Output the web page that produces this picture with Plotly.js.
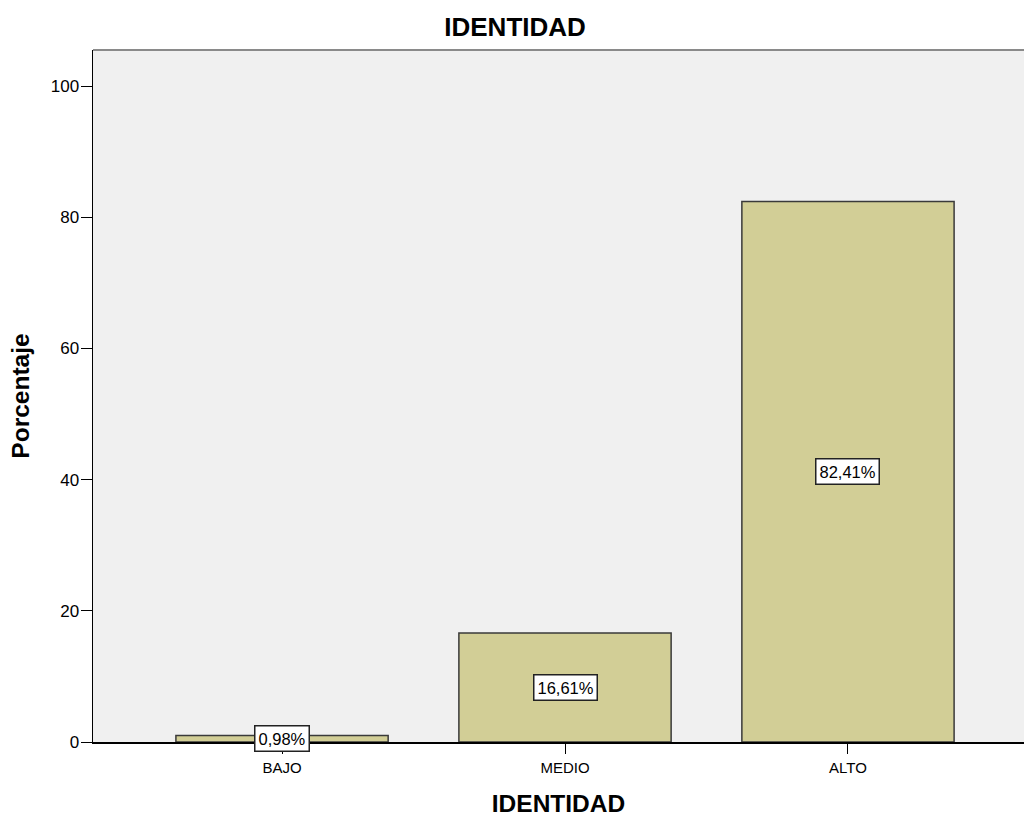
<!DOCTYPE html>
<html><head><meta charset="utf-8">
<script src="https://cdn.plot.ly/plotly-3.0.1.min.js"></script>
<style>body{margin:0;background:#fff}#chart{width:1024px;height:818px}</style>
</head><body><div id="chart"></div>
<script>
const categories = ["BAJO", "MEDIO", "ALTO"];
const percentages = [0.98, 16.61, 82.41];
const labels = ["0,98%", "16,61%", "82,41%"];

const trace = {
  type: "bar",
  x: categories,
  y: percentages,
  width: 0.75,
  marker: {color: "#D2CE96", line: {color: "#3a3a3a", width: 1.5}},
  hoverinfo: "skip"
};

const annotations = categories.map((c, i) => ({
  x: c, y: percentages[i] / 2, xref: "x", yref: "y",
  text: labels[i], showarrow: false,
  font: {family: "Liberation Sans, Arial, sans-serif", size: 16.5, color: "#000"},
  bgcolor: "#ffffff", bordercolor: "#222222", borderwidth: 1.5, borderpad: 3
}));

const layout = {
  width: 1024, height: 818,
  margin: {l: 93, r: 0, t: 50, b: 76},
  paper_bgcolor: "#ffffff",
  plot_bgcolor: "#F0F0F0",
  showlegend: false,
  font: {family: "Liberation Sans, Arial, sans-serif", color: "#000"},
  title: {text: "<b>IDENTIDAD</b>", x: 0.503, xanchor: "center", y: 0.967, yanchor: "middle",
          font: {size: 26, color: "#000"}},
  xaxis: {
    type: "category", range: [-0.668, 2.622],
    showline: true, linecolor: "#000", linewidth: 1.5,
    ticks: "outside", ticklen: 10, tickcolor: "#000", ticklabelstandoff: 1,
    tickfont: {size: 15}, showgrid: false, zeroline: false,
    title: {text: "<b>IDENTIDAD</b>", font: {size: 24.5}, standoff: 20}
  },
  yaxis: {
    range: [0, 105.5], tickvals: [0, 20, 40, 60, 80, 100],
    showline: true, linecolor: "#000", linewidth: 1.5,
    ticks: "outside", ticklen: 11, tickcolor: "#000", ticklabelstandoff: -2,
    tickfont: {size: 17}, showgrid: false, zeroline: false,
    title: {text: "<b>Porcentaje</b>", font: {size: 24.5}, standoff: 14}
  },
  annotations: annotations,
  shapes: [{type: "line", xref: "paper", yref: "paper", x0: 0, x1: 1, y0: 1, y1: 1,
            line: {color: "#8a8a8a", width: 2}}]
};

Plotly.newPlot("chart", [trace], layout, {displayModeBar: false, staticPlot: true});
</script></body></html>
